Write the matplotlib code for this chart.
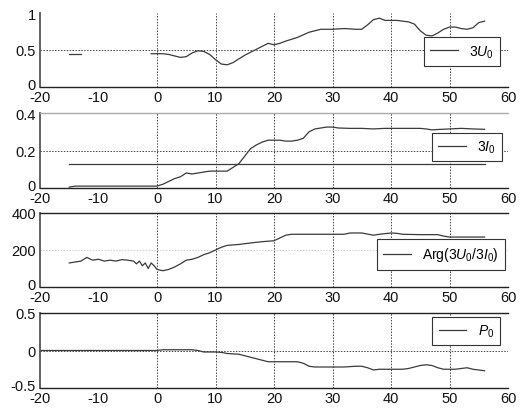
import matplotlib
matplotlib.use("Agg")
import matplotlib.pyplot as plt
import matplotlib.transforms as mtransforms

plt.rcParams['font.family'] = ['Liberation Sans', 'DejaVu Sans']
plt.rcParams['mathtext.fontset'] = 'custom'
plt.rcParams['mathtext.rm'] = 'Liberation Sans'
plt.rcParams['mathtext.it'] = 'Liberation Sans:italic'

# ---- data ----
u0_seg_x = [-15, -13]
u0_seg_y = [0.44, 0.44]
u0_x = [-1, 0, 1, 2, 3, 4, 5, 6, 7, 8, 9, 10, 11, 12, 13, 14, 15, 16, 17, 18, 19, 20,
        21, 22, 24, 26, 28, 30, 32, 34, 35, 36, 37, 38, 39, 40, 41, 43, 44, 45, 46, 47,
        48, 49, 50, 51, 52, 53, 54, 55, 56]
u0_y = [0.45, 0.45, 0.45, 0.44, 0.42, 0.40, 0.41, 0.46, 0.49, 0.48, 0.44, 0.37, 0.31,
        0.30, 0.33, 0.38, 0.43, 0.47, 0.51, 0.55, 0.59, 0.57, 0.59, 0.62, 0.67, 0.74,
        0.78, 0.78, 0.79, 0.78, 0.78, 0.84, 0.91, 0.93, 0.90, 0.90, 0.90, 0.88, 0.85,
        0.76, 0.70, 0.69, 0.73, 0.78, 0.81, 0.81, 0.79, 0.78, 0.80, 0.87, 0.89]

i0_x = [-15, -14, 0, 1, 2, 3, 4, 5, 6, 7, 8, 9, 11, 12, 13, 14, 15, 16, 17, 18, 19, 20,
        21, 22, 23, 24, 25, 26, 27, 28, 29, 30, 31, 33, 35, 37, 39, 41, 43, 45, 46, 47,
        48, 50, 52, 54, 56]
i0_y = [0.005, 0.01, 0.01, 0.02, 0.035, 0.05, 0.06, 0.08, 0.075, 0.08, 0.085, 0.09, 0.09,
        0.09, 0.11, 0.13, 0.17, 0.21, 0.23, 0.245, 0.255, 0.255, 0.255, 0.25, 0.25, 0.255,
        0.265, 0.30, 0.315, 0.32, 0.325, 0.325, 0.32, 0.318, 0.318, 0.315, 0.318, 0.318,
        0.318, 0.318, 0.315, 0.31, 0.312, 0.315, 0.318, 0.315, 0.313]
i0_thr_x = [-15, 56]
i0_thr_y = [0.13, 0.13]

arg_x = [-15, -14, -13, -12, -11, -10, -9, -8, -7, -6, -5, -4, -3.5, -3, -2.5, -2, -1.5,
         -1, -0.5, 0, 1, 2, 3, 4, 5, 6, 7, 8, 9, 10, 11, 12, 14, 16, 18, 20, 21, 22, 23,
         25, 30, 32, 33, 35, 37, 38, 40, 41, 42, 45, 48, 49, 50, 56]
arg_y = [130, 135, 140, 160, 145, 150, 140, 145, 140, 148, 145, 140, 125, 140, 115, 130,
         100, 130, 115, 95, 88, 95, 108, 125, 145, 150, 160, 175, 185, 200, 215, 225, 230,
         238, 245, 250, 265, 280, 285, 285, 285, 285, 292, 292, 280, 285, 292, 290, 285,
         283, 283, 275, 270, 270]

p0_x = [-20, 0, 1, 2, 6, 7, 8, 10, 11, 12, 14, 16, 18, 19, 20, 24, 25, 26, 27, 30, 32,
        34, 35, 36, 37, 38, 40, 42, 43, 45, 46, 47, 48, 49, 50, 51, 52, 53, 54, 55, 56]
p0_y = [0, 0, 0.01, 0.01, 0.01, 0.0, -0.02, -0.02, -0.025, -0.04, -0.05, -0.09, -0.13,
        -0.15, -0.15, -0.15, -0.17, -0.21, -0.22, -0.22, -0.22, -0.21, -0.21, -0.23,
        -0.26, -0.25, -0.25, -0.25, -0.24, -0.20, -0.19, -0.20, -0.23, -0.25, -0.25,
        -0.25, -0.24, -0.23, -0.25, -0.26, -0.27]

x_ticks = [-20, -10, 0, 10, 20, 30, 40, 50, 60]
vgrid_x = [0, 10, 20, 30, 40, 50]

fig = plt.figure(figsize=(5.32, 4.10), dpi=100)
L, W = 40 / 532, 468 / 532
boxes = [(14, 88), (114, 189), (214, 288), (314, 389)]
axes = []
for top, bot in boxes:
    axes.append(fig.add_axes([L, 1 - bot / 410, W, (bot - top) / 410]))

line_c = '#3a3a3a'
grid_c = '#444444'

panels = [
    dict(ylim=(0, 1), yt=[0, 0.5, 1], ytl=['0', '0.5', '1'], hg=0.5,
         label='3$\\mathit{U}_{0}$', leg=(0.983, 0.48), top=None),
    dict(ylim=(0, 0.4), yt=[0, 0.2, 0.4], ytl=['0', '0.2', '0.4'], hg=0.2,
         label='3$\\mathit{I}_{0}$', leg=(0.987, 0.547), top='#aaaaaa'),
    dict(ylim=(0, 400), yt=[0, 200, 400], ytl=['0', '200', '400'], hg=200,
         label='Arg(3$\\mathit{U}_{0}$/3$\\mathit{I}_{0}$)', leg=(0.994, 0.44), top='#222222'),
    dict(ylim=(-0.5, 0.5), yt=[-0.5, 0, 0.5], ytl=['-0.5', '0', '0.5'], hg=0,
         label='$\\mathit{P}_{0}$', leg=(0.983, 0.76), top='#222222'),
]

up = mtransforms.ScaledTranslation(0, 3.5 / 100, fig.dpi_scale_trans)

for i, (ax, p) in enumerate(zip(axes, panels)):
    ax.set_xlim(-20, 60)
    ax.set_ylim(*p['ylim'])
    for gx in vgrid_x:
        ax.axvline(gx, color=grid_c, lw=0.7, ls=(0, (1.5, 1.5)), zorder=0)
    ax.axhline(p['hg'], color=grid_c if i != 2 else '#cccccc', lw=0.7,
               ls=(0, (1.5, 1.5)), zorder=0)

    if i == 0:
        ax.plot(u0_seg_x, u0_seg_y, color=line_c, lw=0.9)
        h, = ax.plot(u0_x, u0_y, color=line_c, lw=0.9)
    elif i == 1:
        ax.plot(i0_thr_x, i0_thr_y, color=line_c, lw=0.9)
        h, = ax.plot(i0_x, i0_y, color=line_c, lw=0.9)
    elif i == 2:
        h, = ax.plot(arg_x, arg_y, color=line_c, lw=0.9)
    else:
        h, = ax.plot(p0_x, p0_y, color=line_c, lw=0.9)

    leg = ax.legend([h], [p['label']], loc='center right', bbox_to_anchor=p['leg'],
                    fancybox=False, framealpha=1, edgecolor='#333333',
                    fontsize=10, handlelength=2.0, borderpad=0.45,
                    handletextpad=0.8, borderaxespad=0)
    leg.get_frame().set_linewidth(0.8)

    ax.set_xticks(x_ticks)
    ax.set_xticklabels([str(t) for t in x_ticks])
    ax.set_yticks(p['yt'])
    ax.set_yticklabels(p['ytl'])
    ax.tick_params(length=0, labelsize=10.5, colors='#111111')
    ax.tick_params(axis='x', pad=2.5)
    ax.tick_params(axis='y', pad=3)
    lbl0 = ax.get_yticklabels()[0]
    lbl0.set_transform(lbl0.get_transform() + up)
    ax.spines['right'].set_visible(False)
    if p['top'] is None:
        ax.spines['top'].set_visible(False)
    else:
        ax.spines['top'].set_color(p['top'])
        ax.spines['top'].set_linewidth(1.0)
    ax.spines['left'].set_color('#555555')
    ax.spines['left'].set_linewidth(1.3)
    ax.spines['bottom'].set_color('#222222')
    ax.spines['bottom'].set_linewidth(1.0)

fig.savefig('out.png', dpi=100)
